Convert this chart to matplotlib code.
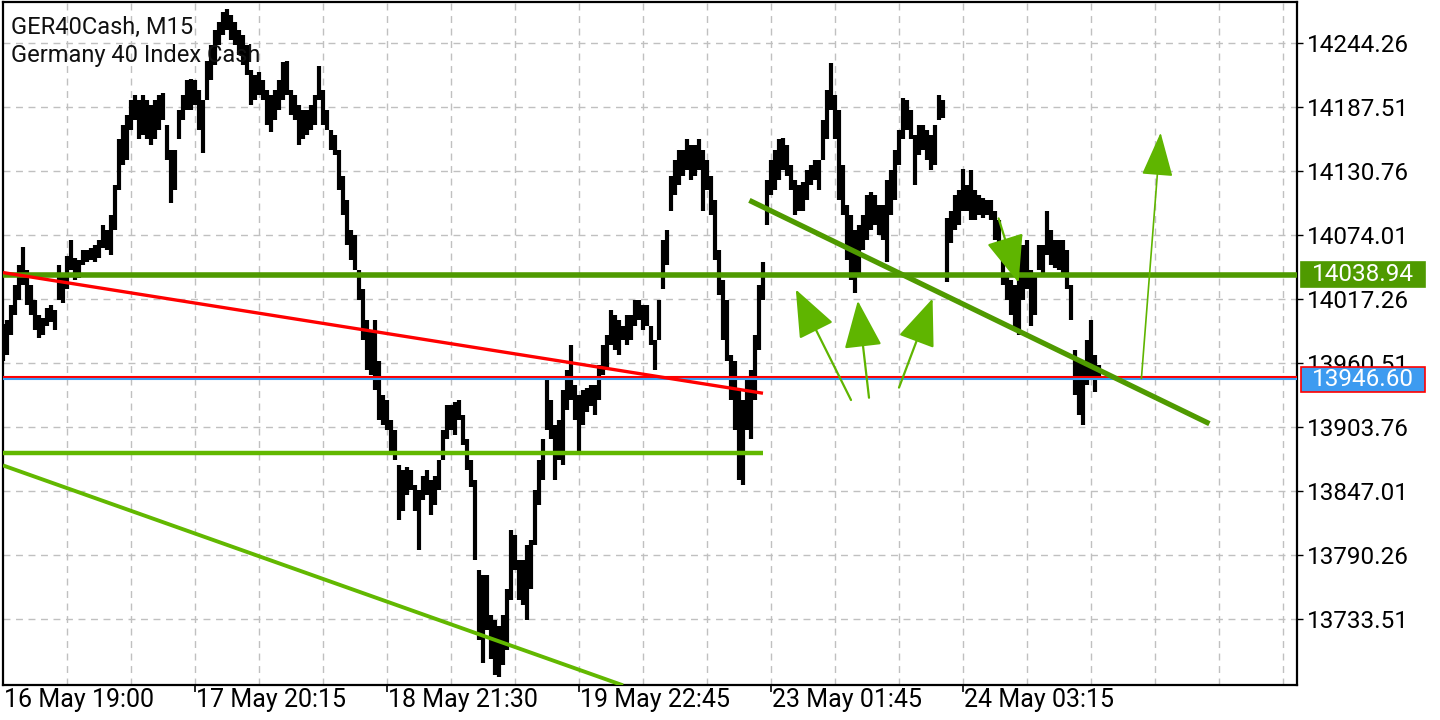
import numpy as np
import matplotlib
matplotlib.use("Agg")
import matplotlib.pyplot as plt
from matplotlib.patches import Rectangle

# GER40Cash M15 - bar highs/lows (one entry per ~2 bars)
bar_high = [
    13995, 13999, 14012, 14030, 14048, 14064, 14043, 14030, 14017, 14003,
    14001, 14010, 14012, 14008, 14048, 14039, 14056, 14070, 14054, 14052,
    14061, 14061, 14063, 14065, 14070, 14083, 14079, 14092, 14119, 14159,
    14172, 14181, 14194, 14198, 14194, 14198, 14194, 14190, 14194, 14198,
    14200, 14172, 14150, 14150, 14185, 14198, 14212, 14213, 14212, 14203,
    14194, 14229, 14243, 14256, 14263, 14272, 14275, 14269, 14263, 14256,
    14252, 14243, 14221, 14216, 14219, 14212, 14203, 14198, 14203, 14212,
    14228, 14229, 14203, 14198, 14190, 14185, 14185, 14190, 14198, 14224,
    14203, 14185, 14167, 14163, 14150, 14127, 14105, 14079, 14074, 14043,
    14026, 13999, 13990, 13999, 13963, 13932, 13928, 13910, 13901, 13870,
    13866, 13869, 13866, 13853, 13848, 13861, 13866, 13857, 13861, 13875,
    13901, 13924, 13924, 13926, 13928, 13915, 13893, 13875, 13857, 13777,
    13773, 13773, 13737, 13733, 13728, 13737, 13760, 13813, 13808, 13786,
    13786, 13799, 13804, 13848, 13875, 13893, 13946, 13928, 13906, 13910,
    13937, 13955, 13977, 13941, 13932, 13937, 13939, 13941, 13941, 13959,
    13977, 13986, 14008, 14003, 13999, 13994, 14003, 14003, 14017, 14017,
    14012, 14012, 13994, 13981, 14017, 14070, 14079, 14127, 14141, 14150,
    14150, 14159, 14154, 14154, 14159, 14150, 14141, 14127, 14105, 14061,
    14034, 14017, 13968, 13963, 13937, 13928, 13946, 13955, 13986, 14030,
    14050, 14123, 14141, 14150, 14159, 14160, 14154, 14136, 14123, 14119,
    14121, 14132, 14136, 14141, 14141, 14176, 14203, 14227, 14198, 14185,
    14136, 14101, 14092, 14079, 14083, 14092, 14110, 14112, 14110, 14101,
    14101, 14123, 14132, 14150, 14167, 14196, 14194, 14185, 14163, 14172,
    14172, 14167, 14163, 14172, 14198, 14194, 14089, 14096, 14110, 14114,
    14133, 14119, 14132, 14114, 14110, 14107, 14105, 14105, 14096, 14088,
    14061, 14039, 14034, 14030, 14065, 14065, 14070, 14043, 14039, 14065,
    14065, 14096, 14079, 14070, 14070, 14070, 14061, 14030, 13972, 13963,
    13963, 13981, 13999, 13968, 13959,
]
bar_low = [
    13963, 13968, 13986, 14003, 14017, 14030, 14012, 14003, 13990, 13983,
    13986, 13994, 13997, 13990, 14017, 14014, 14026, 14043, 14034, 14036,
    14048, 14050, 14052, 14050, 14054, 14063, 14061, 14057, 14079, 14114,
    14136, 14141, 14167, 14176, 14159, 14163, 14159, 14154, 14159, 14167,
    14176, 14141, 14103, 14114, 14159, 14176, 14185, 14185, 14190, 14167,
    14147, 14194, 14212, 14225, 14243, 14252, 14256, 14247, 14243, 14234,
    14225, 14216, 14190, 14194, 14198, 14194, 14172, 14166, 14176, 14185,
    14194, 14198, 14181, 14176, 14154, 14159, 14163, 14167, 14172, 14194,
    14172, 14167, 14150, 14145, 14114, 14092, 14065, 14052, 14043, 14017,
    13981, 13955, 13950, 13937, 13910, 13906, 13901, 13879, 13875, 13822,
    13830, 13844, 13848, 13830, 13795, 13839, 13844, 13826, 13835, 13848,
    13875, 13893, 13901, 13897, 13910, 13888, 13866, 13851, 13786, 13715,
    13695, 13724, 13698, 13684, 13682, 13693, 13706, 13751, 13777, 13751,
    13746, 13733, 13760, 13799, 13835, 13857, 13901, 13893, 13857, 13875,
    13870, 13919, 13928, 13910, 13879, 13906, 13917, 13923, 13915, 13928,
    13950, 13955, 13977, 13972, 13968, 13981, 13977, 13981, 13994, 13999,
    13990, 13994, 13977, 13955, 13981, 14026, 14048, 14096, 14110, 14119,
    14127, 14132, 14123, 14127, 14132, 14096, 14114, 14092, 14052, 14021,
    13981, 13963, 13928, 13901, 13857, 13853, 13901, 13893, 13928, 13972,
    14017, 14083, 14110, 14114, 14123, 14132, 14127, 14114, 14092, 14096,
    14096, 14105, 14119, 14123, 14114, 14141, 14159, 14185, 14159, 14105,
    14092, 14052, 14034, 14023, 14039, 14061, 14070, 14079, 14083, 14074,
    14070, 14050, 14092, 14105, 14136, 14159, 14167, 14159, 14119, 14145,
    14150, 14141, 14132, 14136, 14176, 14178, 14033, 14067, 14079, 14083,
    14096, 14096, 14088, 14088, 14092, 14089, 14092, 14088, 14070, 14057,
    14030, 14017, 14003, 13990, 13986, 14017, 14026, 13994, 14003, 14043,
    14039, 14057, 14048, 14045, 14043, 14039, 14026, 13999, 13932, 13915,
    13906, 13941, 13946, 13935, 13946,
]

y_ticks = [14244.26, 14187.51, 14130.76, 14074.01, 14017.26,
           13960.51, 13903.76, 13847.01, 13790.26, 13733.51]
x_labels = ["16 May 19:00", "17 May 20:15", "18 May 21:30",
            "19 May 22:45", "23 May 01:45", "24 May 03:15"]
x_label_bars = [0, 48, 96, 144, 192, 240]

level_top = 14038.94          # green horizontal
bid_price = 13946.60
ask_price = 13948.5
level_low = 13881.0           # short light-green horizontal (ends at bar 190)
red_trend = [(0, 14041), (190, 13934)]
low_trend = [(0, 13870), (155, 13675)]
mid_trend = [(186.6, 14105), (301.6, 13907)]
# arrows: (tail, tip) in (bar, price)
arrows = [
    ((212.0, 13928), (198.2, 14026)),
    ((216.5, 13930), (213.7, 14016)),
    ((224.0, 13939), (232.4, 14018)),
    ((248.9, 14089), (253.9, 14032)),
]
arrow_long = ((284.6, 13947), (289.4, 14165))

DARK_GREEN = "#4f9a00"
LIGHT_GREEN = "#62b800"
ARROW_GREEN = "#5fb500"

fig = plt.figure(figsize=(14.4, 7.2), dpi=100)
ax = fig.add_axes([3 / 1440, 1 - 685 / 720, 1294 / 1440, 683 / 720])
ax.set_xlim(0, 323.5)
ax.set_ylim(13675.3, 14280.9)

# grid
for gx in range(16, 324, 16):
    ax.axvline(gx, color="#c0c0c0", lw=1.0, ls=(0, (5, 4)), zorder=0)
for gy in y_ticks:
    ax.axhline(gy, color="#c0c0c0", lw=1.0, ls=(0, (5, 4)), zorder=0)

# price bars
idx = np.arange(len(bar_high))
ax.vlines(idx, bar_low, bar_high, color="black", lw=3.0, zorder=3)

# levels and trend lines
ax.axhline(level_top, color=DARK_GREEN, lw=4.0, zorder=4)
ax.axhline(ask_price, color="#ff0000", lw=1.5, zorder=4)
ax.axhline(bid_price, color="#3d9bf0", lw=1.5, zorder=4)
ax.plot([0, 190], [level_low, level_low], color=LIGHT_GREEN, lw=3.2, zorder=4,
        solid_capstyle="butt")
for seg, col, lw in [(red_trend, "#ff0000", 2.4),
                     (low_trend, LIGHT_GREEN, 2.8),
                     (mid_trend, DARK_GREEN, 3.8)]:
    (x0, y0), (x1, y1) = seg
    ax.plot([x0, x1], [y0, y1], color=col, lw=lw, zorder=4, solid_capstyle="butt")

for tail, tip in arrows:
    ax.annotate("", xy=tip, xytext=tail,
                arrowprops=dict(arrowstyle="-|>,head_length=1.5,head_width=0.6",
                                color=ARROW_GREEN, lw=1.6, shrinkA=0, shrinkB=0,
                                mutation_scale=20), zorder=5)
ax.annotate("", xy=arrow_long[1], xytext=arrow_long[0],
            arrowprops=dict(arrowstyle="-|>,head_length=1.4,head_width=0.5",
                            color=ARROW_GREEN, lw=1.2, shrinkA=0, shrinkB=0,
                            mutation_scale=20), zorder=5)

# axes styling
for s in ax.spines.values():
    s.set_linewidth(1.6)
    s.set_color("black")
ax.yaxis.tick_right()
ax.set_yticks(y_ticks)
ax.set_yticklabels([f"{v:.2f}" for v in y_ticks], fontsize=17.5, family="Roboto")
ax.tick_params(axis="y", length=4, width=1, pad=3)
ax.set_xticks(x_label_bars[1:])
ax.set_xticklabels([])
ax.tick_params(axis="x", length=5, width=1.2)
for xb, lab in zip(x_label_bars, x_labels):
    ax.text(xb + 0.3, -0.022, lab, transform=ax.get_xaxis_transform(),
            ha="left", va="center", fontsize=18, family="Roboto", clip_on=False)

# price tags on the right scale
tag_x = 1301 / 1440
tag_w = 124 / 1440
for price, fc, ec in [(level_top, DARK_GREEN, DARK_GREEN), (bid_price, "#3d9bf0", "#ff0000")]:
    yf = ax.transData.transform((0, price))[1] / 720
    fig.patches.append(Rectangle((tag_x, yf - 12.5 / 720), tag_w, 25 / 720,
                                 transform=fig.transFigure, fc=fc, ec=ec, lw=1.2,
                                 zorder=10))
    fig.text(tag_x + tag_w / 2, yf, f"{price:.2f}", color="white", fontsize=17.5,
             family="Roboto", ha="center", va="center", zorder=11)

ax.text(0.006, 0.962, "GER40Cash, M15", transform=ax.transAxes, fontsize=17,
        family="Roboto", va="center", ha="left", color="#111111", zorder=6)
ax.text(0.006, 0.921, "Germany 40 Index Cash", transform=ax.transAxes, fontsize=17,
        family="Roboto", va="center", ha="left", color="#111111", zorder=6)

fig.savefig("out.png", dpi=100)
